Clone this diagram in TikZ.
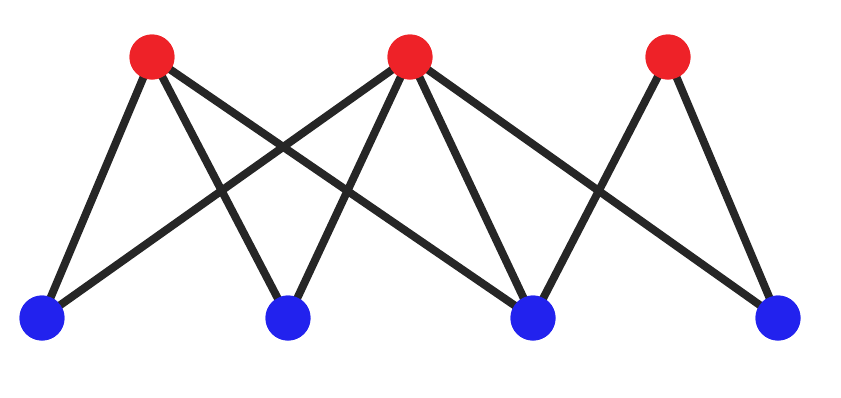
\documentclass[tikz,border=0pt]{standalone}
\definecolor{topred}{RGB}{238,34,40}
\definecolor{botblue}{RGB}{34,34,238}
\begin{document}
\begin{tikzpicture}[x=0.02cm, y=-0.02cm,
    topnode/.style={circle, fill=topred, inner sep=0pt, minimum size=0.9cm},
    botnode/.style={circle, fill=botblue, inner sep=0pt, minimum size=0.9cm},
    edge/.style={line width=4.5pt, black!85}]
        % frame
        \useasboundingbox (0,0) rectangle (841,397);
        % define nodes
        \node[topnode] (T1) at (152, 57) {};
        \node[topnode] (T2) at (410, 57) {};
        \node[topnode] (T3) at (668, 57) {};
        \node[botnode] (B1) at (42, 318) {};
        \node[botnode] (B2) at (288, 318) {};
        \node[botnode] (B3) at (533, 318) {};
        \node[botnode] (B4) at (778, 318) {};
        % edges
        \begin{scope}[on background layer/.style={}]
        \draw[edge] (T1.center) -- (B1.center);
        \draw[edge] (T1.center) -- (B2.center);
        \draw[edge] (T1.center) -- (B3.center);
        \draw[edge] (T2.center) -- (B1.center);
        \draw[edge] (T2.center) -- (B2.center);
        \draw[edge] (T2.center) -- (B3.center);
        \draw[edge] (T2.center) -- (B4.center);
        \draw[edge] (T3.center) -- (B3.center);
        \draw[edge] (T3.center) -- (B4.center);
        \end{scope}
        % redraw nodes on top
        \node[topnode] at (T1) {};
        \node[topnode] at (T2) {};
        \node[topnode] at (T3) {};
        \node[botnode] at (B1) {};
        \node[botnode] at (B2) {};
        \node[botnode] at (B3) {};
        \node[botnode] at (B4) {};
    \end{tikzpicture}
\end{document}
